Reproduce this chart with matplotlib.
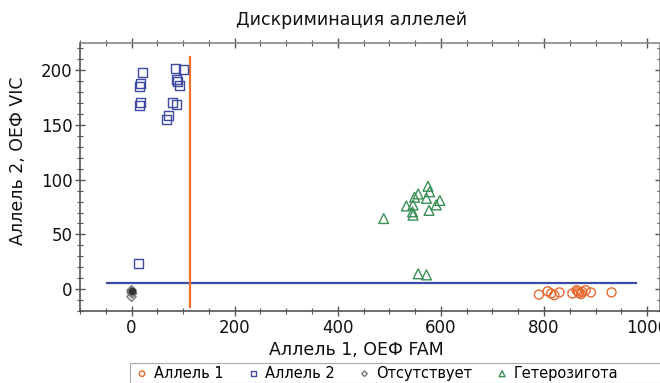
import matplotlib
matplotlib.use("Agg")
import matplotlib.pyplot as plt
from matplotlib.ticker import MultipleLocator
from matplotlib.patches import Rectangle

plt.rcParams['font.family'] = ['DejaVu Sans']

# Allele 1 (FAM homozygotes)
a1_x = [790, 807, 814, 820, 830, 855, 863, 868, 872, 881, 891, 931, 866, 874]
a1_y = [-5, -2, -4, -5.5, -3, -4, -1, -3.5, -4.5, -1, -3, -3, -2, -2.5]
# Allele 2 (VIC homozygotes)
a2_x = [21, 17, 16, 17, 16, 85, 101, 87, 89, 93, 79, 87, 72, 68, 14]
a2_y = [198, 188, 185, 171, 168, 202, 201, 192, 190, 186, 171, 169, 159, 155, 23]
# No call
nc_x = [0, 0, 0, 1]
nc_y = [-1, -2.5, -7, -4]
# Heterozygotes
het_x = [489, 533, 546, 545, 546, 556, 575, 578, 572, 598, 591, 577, 549, 556, 572]
het_y = [64.5, 76, 77, 70.6, 67.6, 87, 94, 89, 83, 81, 77, 72, 84, 14, 13]

# threshold lines
vline_x = 114
vline_y = [-16, 212]
hline_y = 5.5
hline_x = [-48, 979]

c_a1 = '#E8692F'
c_a2 = '#3C4AA3'
c_nc = '#777777'
c_het = '#3A8F55'

W, H = 660, 383
fig = plt.figure(figsize=(6.6, 3.83), dpi=100)
ax = fig.add_axes([80/W, 72/H, 580/W, 268/H])

ax.plot(hline_x, [hline_y, hline_y], color='#3A4AA8', lw=1.6, zorder=1)
ax.plot([vline_x, vline_x], vline_y, color='#F07030', lw=1.6, zorder=1)

ax.scatter(a1_x, a1_y, marker='o', s=42, facecolors='none', edgecolors=c_a1, linewidths=1.0, label='Аллель 1', zorder=3)
ax.scatter(a2_x, a2_y, marker='s', s=42, facecolors='none', edgecolors=c_a2, linewidths=1.0, label='Аллель 2', zorder=3)
ax.scatter(nc_x, nc_y, marker='D', s=22, facecolors='none', edgecolors=c_nc, linewidths=1.0, label='Отсутствует', zorder=3)
ax.scatter([0], [-2], marker='o', s=20, color='#333333', zorder=4)
ax.scatter(het_x, het_y, marker='^', s=50, facecolors='none', edgecolors=c_het, linewidths=1.0, label='Гетерозигота', zorder=3)

ax.set_xlim(-100, 1025)
ax.set_ylim(-20, 225)
ax.xaxis.set_major_locator(MultipleLocator(200))
ax.xaxis.set_minor_locator(MultipleLocator(50))
ax.yaxis.set_major_locator(MultipleLocator(50))
ax.yaxis.set_minor_locator(MultipleLocator(10))

ax.tick_params(axis='both', which='both', direction='inout', color='#555555', labelsize=12, labelcolor='#111111')
ax.tick_params(which='major', length=7, width=1)
ax.tick_params(which='minor', length=5, width=0.8)
ax.tick_params(axis='x', which='both', top=True, pad=2)
ax.tick_params(axis='y', which='both', right=True, pad=2)

for s in ['left', 'bottom']:
    ax.spines[s].set_color('#555555')
    ax.spines[s].set_linewidth(1.2)
for s in ['top', 'right']:
    ax.spines[s].set_color('#888888')
    ax.spines[s].set_linewidth(1.2)

fig.text(356/W, 1 - 350/H, 'Аллель 1, ОЕФ FAM', ha='center', va='center', fontsize=12.5, color='#111111')
fig.text(18/W, 1 - 161/H, 'Аллель 2, ОЕФ VIC', ha='center', va='center', rotation=90, fontsize=12.5, color='#111111')
fig.text(352/W, 1 - 20/H, 'Дискриминация аллелей', ha='center', va='center', fontsize=12.5, color='#111111')

# legend frame spanning to the right edge
fig.add_artist(Rectangle((130/W, 0), 540/W, 20/H, transform=fig.transFigure,
                         facecolor='white', edgecolor='#AAAAAA', lw=0.8, zorder=5))
leg = fig.legend(loc='lower left', bbox_to_anchor=(134/W, 1/H), ncol=4, borderaxespad=0,
                 fontsize=10.5, frameon=False, handletextpad=0.35, columnspacing=1.6,
                 borderpad=0.1, markerscale=0.6, handlelength=0.9)
leg.set_zorder(6)

fig.savefig('out.png', dpi=100)
